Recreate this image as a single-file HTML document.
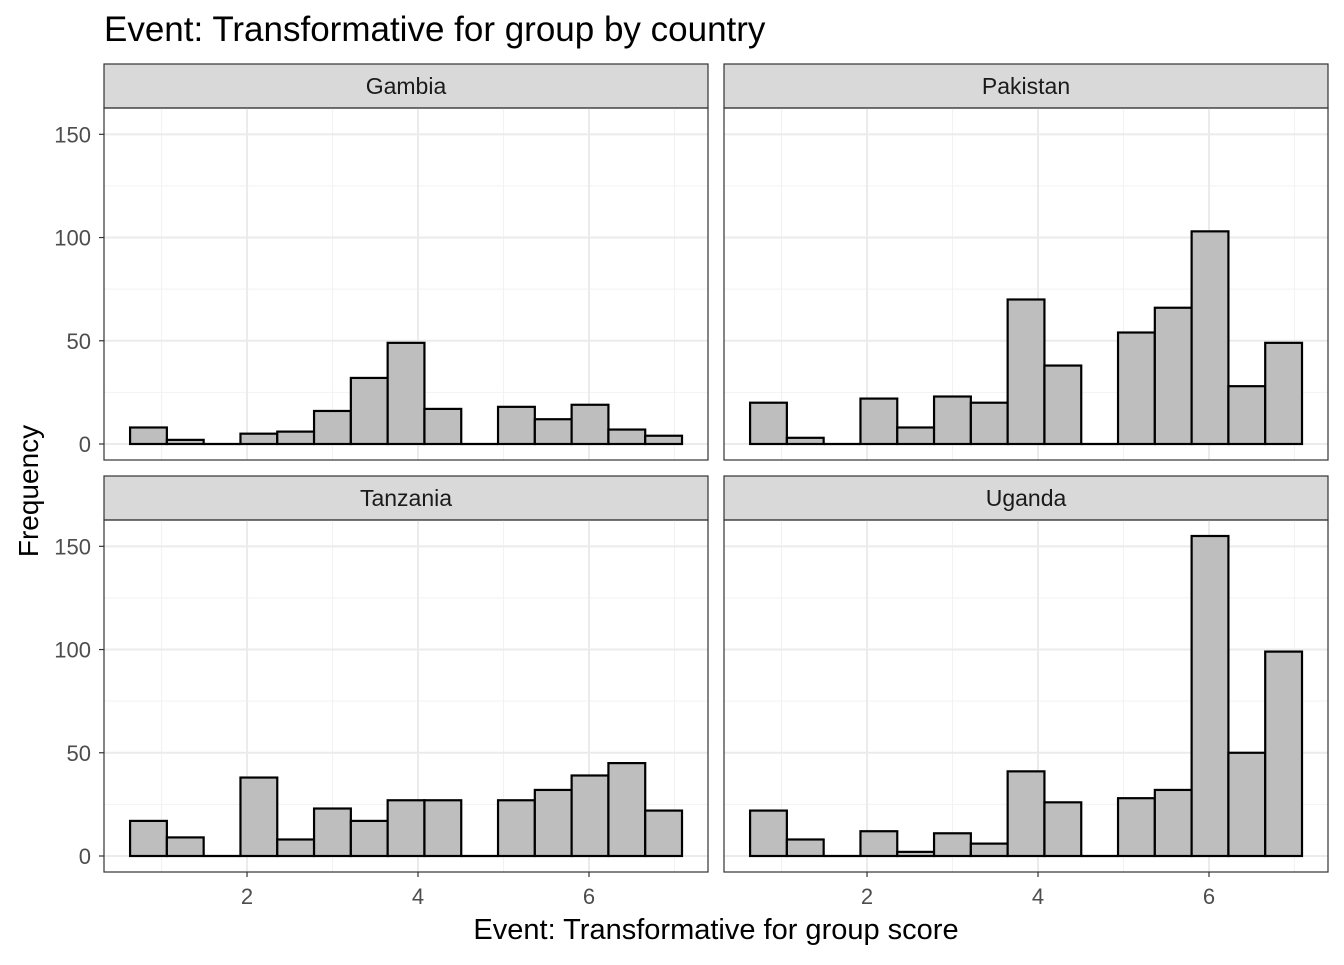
<!DOCTYPE html>
<html><head><meta charset="utf-8"><style>
body{margin:0;background:#fff;}
svg text{font-family:"Liberation Sans",sans-serif;}
</style></head><body>
<svg id="chart" width="1344" height="960" xmlns="http://www.w3.org/2000/svg">
<rect width="1344" height="960" fill="#fff"/>
<text x="104" y="41" font-size="35" fill="#000">Event: Transformative for group by country</text>
<text x="716" y="939" font-size="29" text-anchor="middle" fill="#000">Event: Transformative for group score</text>
<text transform="translate(38,491) rotate(-90)" font-size="28" text-anchor="middle" fill="#000">Frequency</text>
</svg>
<script>
const countries = ["Gambia","Pakistan","Tanzania","Uganda"];
const gambiaCounts = [8,2,0,5,6,16,32,49,17,0,18,12,19,7,4];
const pakistanCounts = [20,3,0,22,8,23,20,70,38,0,54,66,103,28,49];
const tanzaniaCounts = [17,9,0,38,8,23,17,27,27,0,27,32,39,45,22];
const ugandaCounts = [22,8,0,12,2,11,6,41,26,0,28,32,155,50,99];
const binStart = 0.632;
const binWidth = 0.4304;
const xTicks = [2,4,6];
const yTicks = [0,50,100,150];

const svg = document.getElementById('chart');
const NS = 'http://www.w3.org/2000/svg';
function mk(tag, attrs){const e=document.createElementNS(NS,tag);for(const k in attrs)e.setAttribute(k,attrs[k]);svg.appendChild(e);return e;}
const allCounts=[gambiaCounts,pakistanCounts,tanzaniaCounts,ugandaCounts];
const panels=[{x:104,y:108},{x:724,y:108},{x:104,y:520},{x:724,y:520}];
const PW=604, PH=352;
const xmin=0.327, xmax=7.392, ymin=-7.75, ymax=162.75;
countries.forEach((c,i)=>{
  const p=panels[i];
  const sx=v=>p.x+(v-xmin)/(xmax-xmin)*PW;
  const sy=v=>p.y+PH-(v-ymin)/(ymax-ymin)*PH;
  const strip=mk('rect',{x:p.x,y:p.y-44,width:PW,height:44,fill:'#d9d9d9',stroke:'#333','stroke-width':1.2});
  
  
  const st=mk('text',{x:p.x+PW/2,y:p.y-14,'font-size':23,'text-anchor':'middle',fill:'#1a1a1a'});
  st.textContent=c;
  
  
  [1,3,5,7].forEach(v=>mk('line',{x1:sx(v),x2:sx(v),y1:p.y,y2:p.y+PH,stroke:'#f2f2f2','stroke-width':1}));
  [25,75,125].forEach(v=>mk('line',{x1:p.x,x2:p.x+PW,y1:sy(v),y2:sy(v),stroke:'#f2f2f2','stroke-width':1}));
  xTicks.forEach(v=>mk('line',{x1:sx(v),x2:sx(v),y1:p.y,y2:p.y+PH,stroke:'#ebebeb','stroke-width':2}));
  yTicks.forEach(v=>mk('line',{x1:p.x,x2:p.x+PW,y1:sy(v),y2:sy(v),stroke:'#ebebeb','stroke-width':2}));
  allCounts[i].forEach((n,j)=>{
    const x0=sx(binStart+j*binWidth), x1=sx(binStart+(j+1)*binWidth);
    let r;
    if(n===0){
      r=mk('line',{x1:x0,x2:x1,y1:sy(0),y2:sy(0),stroke:'#000','stroke-width':2.2});
    } else {
      r=mk('rect',{x:x0,y:sy(n),width:x1-x0,height:sy(0)-sy(n),fill:'#bebebe',stroke:'#000','stroke-width':2.2});
    }
    
    
  });
  const fr=mk('rect',{x:p.x,y:p.y,width:PW,height:PH,fill:'none',stroke:'#333','stroke-width':1.2});
  
  
  if(i%2===0){
    yTicks.forEach(v=>{
      mk('line',{x1:p.x-5,x2:p.x,y1:sy(v),y2:sy(v),stroke:'#333','stroke-width':1.2});
      const t=mk('text',{x:p.x-13,y:sy(v)+8,'font-size':22,'text-anchor':'end',fill:'#4d4d4d'});
      t.textContent=v;
      
      
    });
  }
  if(i>=2){
    xTicks.forEach(v=>{
      mk('line',{x1:sx(v),x2:sx(v),y1:p.y+PH,y2:p.y+PH+5,stroke:'#333','stroke-width':1.2});
      const t=mk('text',{x:sx(v),y:p.y+PH+32,'font-size':22,'text-anchor':'middle',fill:'#4d4d4d'});
      t.textContent=v;
      
      
    });
  }
});
</script>
</body></html>
